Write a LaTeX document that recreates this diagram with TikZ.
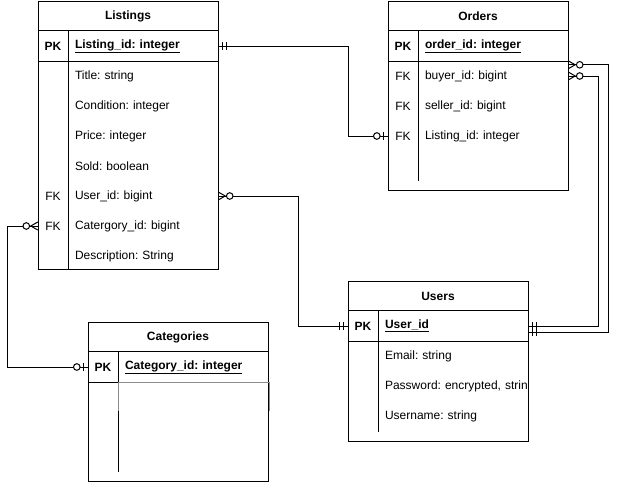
\documentclass[tikz,border=0pt]{standalone}
\usepackage{fontspec}
\setmainfont{Liberation Sans}
\frenchspacing
\usepackage{tikz}
\usetikzlibrary{decorations.markings,calc}
\tikzset{
  erFrame/.style={draw,line width=1pt,minimum width=180pt,inner sep=0pt},
  erTitle/.style={font=\fontsize{12}{14}\selectfont\bfseries},
  erKey/.style={minimum width=30pt,minimum height=30pt,inner sep=0pt,
        font=\fontsize{12}{14}\selectfont},
  erPKey/.style={erKey,font=\fontsize{12}{14}\selectfont\bfseries},
  erField/.style={minimum height=30pt,inner xsep=7pt,inner ysep=0pt,
        text width=136pt,align=left,font=\fontsize{12}{14}\selectfont},
  erPField/.style={erField,font=\fontsize{12}{14}\selectfont\bfseries},
  erLine/.style={line width=1pt},
  erGrey/.style={line width=1pt,draw=black!45},
  erMark/.style={line width=1pt},
  oneS/.style={postaction={decorate,decoration={markings,
        mark=at position 4pt with {\draw[erMark] (0,-4pt) -- (0,4pt);},
        mark=at position 8pt with {\draw[erMark] (0,-4pt) -- (0,4pt);}}}},
  oneE/.style={postaction={decorate,decoration={markings,
        mark=at position -8pt with {\draw[erMark] (0,-4pt) -- (0,4pt);},
        mark=at position -4pt with {\draw[erMark] (0,-4pt) -- (0,4pt);}}}},
  zeroOneE/.style={postaction={decorate,decoration={markings,
        mark=at position -11pt with {\draw[erMark,fill=white] (0,0) circle (3.3pt);},
        mark=at position -4pt with {\draw[erMark] (0,-4pt) -- (0,4pt);}}}},
  zeroManyS/.style={postaction={decorate,decoration={markings,
        mark=at position 7pt with {\draw[erMark] (-7pt,4pt) -- (0,0) -- (-7pt,-4pt);},
        mark=at position 11.5pt with {\draw[erMark,fill=white] (0,0) circle (3.3pt);}}}},
}
\begin{document}
\begin{tikzpicture}[x=1pt,y=-1pt]
\useasboundingbox (0,0) rectangle (618,482);

\node[erFrame,minimum height=268pt,anchor=north west] (lst) at (38,1) {};
\node[erTitle]  (lstT)     at (128,16)  {Listings};
\node[erPKey]   (lstPKk)   at (53,46)   {PK};
\node[erPField] (lstPK)    at (143,46)  {\underline{Listing\_id: integer}};
\node[erField]  (lstTitle) at (143,76)  {Title: string};
\node[erField]  (lstCond)  at (143,106) {Condition: integer};
\node[erField]  (lstPrice) at (143,136) {Price: integer};
\node[erField]  (lstSold)  at (143,166) {Sold: boolean};
\node[erKey]    (lstUserK) at (53,196)  {FK};
\node[erField]  (lstUser)  at (143,196) {User\_id: bigint};
\node[erKey]    (lstCatK)  at (53,226)  {FK};
\node[erField]  (lstCat)   at (143,226) {Catergory\_id: bigint};
\node[erField]  (lstDesc)  at (143,256) {Description: String};

\node[erFrame,minimum height=189pt,anchor=north west] (ord) at (388,1) {};
\node[erTitle]  (ordT)      at (478,16)  {Orders};
\node[erPKey]   (ordPKk)    at (403,46)  {PK};
\node[erPField] (ordPK)     at (493,46)  {\underline{order\_id: integer}};
\node[erKey]    (ordBuyerK) at (403,76)  {FK};
\node[erField]  (ordBuyer)  at (493,76)  {buyer\_id: bigint};
\node[erKey]    (ordSellK)  at (403,106) {FK};
\node[erField]  (ordSell)   at (493,106) {seller\_id: bigint};
\node[erKey]    (ordLstK)   at (403,136) {FK};
\node[erField]  (ordLst)    at (493,136) {Listing\_id: integer};

\node[erFrame,minimum height=160pt,anchor=north west] (usr) at (348,281) {};
\node[erTitle]  (usrT)     at (438,296) {Users};
\node[erPKey]   (usrPKk)   at (363,326) {PK};
\node[erPField] (usrPK)    at (453,326) {\underline{User\_id}};
\node[erField]  (usrMail)  at (453,356) {Email: string};
\node[erField]  (usrPass)  at (453,386) {\mbox{Password: encrypted, strin}};
\node[erField]  (usrName)  at (453,416) {Username: string};

\node[erFrame,minimum height=159pt,anchor=north west] (cat) at (88,322) {};
\node[erTitle]  (catT)     at (178,337) {Categories};
\node[erPKey]   (catPKk)   at (103,367) {PK};
\node[erPField] (catPK)    at (193,367) {\underline{Category\_id: integer}};

\draw[erLine] (lst.west |- lstPK.north) -- (lst.east |- lstPK.north);
\draw[erLine] (lst.west |- lstPK.south) -- (lst.east |- lstPK.south);
\draw[erLine] (lstPKk.north east) -- (lstPKk.north east |- lst.south);

\draw[erLine] (ord.west |- ordPK.north) -- (ord.east |- ordPK.north);
\draw[erLine] (ord.west |- ordPK.south) -- (ord.east |- ordPK.south);
\draw[erLine] (ordPKk.north east) -- ($(ordPKk.north east |- ord.south)+(0,-10)$);

\draw[erLine] (usr.west |- usrPK.north) -- (usr.east |- usrPK.north);
\draw[erLine] (usr.west |- usrPK.south) -- (usr.east |- usrPK.south);
\draw[erLine] (usrPKk.north east) -- ($(usrPKk.north east |- usr.south)+(0,-10)$);

\draw[erLine] (cat.west |- catPK.north) -- (cat.east |- catPK.north);
\draw[erLine] (cat.west |- catPK.south) -- (catPKk.south east);
\draw[erGrey] ($(catPKk.south east)+(0,29)$) -- (catPKk.south east)
  -- (cat.east |- catPK.south) -- ++(0,29);
\draw[erLine] (catPKk.north east) -- (catPKk.south east);
\draw[erLine] ($(catPKk.south east)+(0,29)$) -- ($(catPKk.north east |- cat.south)+(0,-10)$);

\draw[erLine,oneS,zeroOneE] (lstPK.east) -- ++(130,0) |- (ordLstK.west);
\draw[erLine,zeroManyS,oneE] (lstUser.east) -- ++(80,0) |- (usrPKk.west);
\draw[erLine,zeroManyS,zeroOneE] (lstCatK.west) -- ++(-30,0) |- (catPKk.west);
\draw[erLine,zeroManyS,oneE] ([yshift=-4pt]ordBuyer.north east) -- ++(40,0)
  |- ([yshift=-6pt]usrPK.east);
\draw[erLine,zeroManyS,oneE] (ordBuyer.east) -- ++(30,0) |- (usrPK.east);
\end{tikzpicture}
\end{document}
